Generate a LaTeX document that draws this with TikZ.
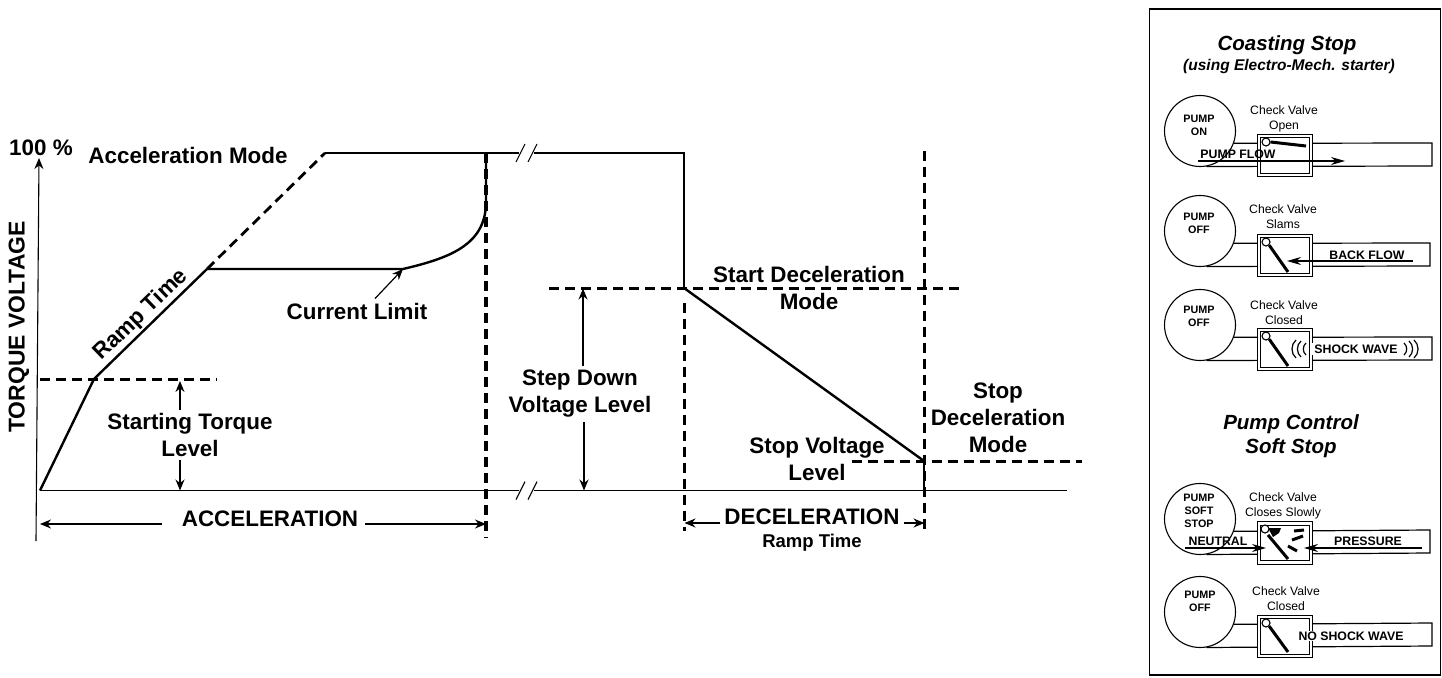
\documentclass[tikz,border=0pt]{standalone}
\usepackage{fontspec}
\setmainfont{Liberation Sans}
\usetikzlibrary{positioning}
\usetikzlibrary{arrows.meta}

\begin{document}
\begin{tikzpicture}[x=1pt, y=-1pt,
	chartlabel/.style={font=\fontsize{22.4}{27}\selectfont\bfseries, align=center, inner sep=0pt},
	ramplabel/.style={font=\fontsize{18.5}{22}\selectfont\bfseries, align=center, inner sep=0pt},
	paneltitle/.style={font=\fontsize{20.5}{24}\selectfont\bfseries\itshape, align=center, inner sep=0pt},
	panelnote/.style={font=\fontsize{15.5}{18}\selectfont\bfseries\itshape, align=center, inner sep=0pt},
	valvetext/.style={font=\fontsize{12.2}{15}\selectfont, align=center, inner sep=0pt},
	pumptext/.style={font=\fontsize{10.8}{13}\selectfont\bfseries, align=center, inner sep=0pt},
	flowtext/.style={font=\fontsize{12.3}{15}\selectfont\bfseries, align=center, inner sep=0pt},
	pumpnode/.style={circle, draw=black, line width=1.1pt, minimum size=71pt, inner sep=0pt},
	valvenode/.style={rectangle, draw=black, line width=1.2pt, double, double distance=2.4pt, minimum width=52pt, minimum height=39pt, inner sep=0pt},
	hingenode/.style={circle, draw=black, fill=white, line width=1.1pt, minimum size=8pt, inner sep=0pt},
	panelbox/.style={rectangle, draw=black, line width=1.6pt, minimum width=291pt, minimum height=666pt, inner sep=0pt},
	thinline/.style={line width=1.1pt},
	heavyline/.style={line width=2.4pt},
	dashline/.style={line width=3.4pt, dash pattern=on 10pt off 6pt},
	slantdash/.style={line width=2.8pt, dash pattern=on 10pt off 6pt},
	dimarrow/.style={line width=1.2pt, -{Stealth[length=11pt, width=9pt]}},
	pipeline/.style={line width=1.2pt},
	flowarrow/.style={line width=1.1pt, -{Stealth[length=14pt, width=8pt]}},
	flapline/.style={line width=3pt},
	]
	\useasboundingbox (0, 0) rectangle (1442, 677);

	% Chart points
	\coordinate (origin)       at (40, 490.5);
	\coordinate (axis_low)     at (36, 541);
	\coordinate (axis_top)     at (39, 158);
	\coordinate (torque_knee)  at (94, 379);
	\coordinate (torque_left)  at (40, 379.5);
	\coordinate (torque_right) at (217, 379.5);
	\coordinate (ramp_knee)    at (207, 269);
	\coordinate (ramp_top)     at (325, 153);
	\coordinate (limit_end)    at (403, 269);
	\coordinate (accel_top)    at (486, 153);
	\coordinate (accel_curve)  at (486, 205);
	\coordinate (accel_low)    at (486, 538);
	\coordinate (break_tl)     at (519, 153);
	\coordinate (break_tr)     at (534, 153);
	\coordinate (break_bl)     at (519, 490.5);
	\coordinate (break_br)     at (534, 490.5);
	\coordinate (step_top)     at (684, 153);
	\coordinate (step_low)     at (684, 288);
	\coordinate (step_left)    at (549, 288.5);
	\coordinate (step_right)   at (964, 288.5);
	\coordinate (decel_high)   at (684.5, 303);
	\coordinate (decel_low)    at (684.5, 531);
	\coordinate (stop_point)   at (924, 461);
	\coordinate (stop_top)     at (924.5, 151);
	\coordinate (stop_base)    at (924, 490);
	\coordinate (stop_low)     at (924.5, 533);
	\coordinate (stop_left)    at (852, 461.5);
	\coordinate (stop_right)   at (1082, 461.5);
	\coordinate (base_end)     at (1067, 490.5);

	% Chart labels
	\node[chartlabel]               (percent_label)   at (41, 148)    {100 \%};
	\node[chartlabel]               (accel_mode)      at (188, 155)   {Acceleration Mode};
	\node[chartlabel, font=\fontsize{22.9}{27}\selectfont\bfseries, rotate=90] (torque_label) at (19, 327) {TORQUE VOLTAGE};
	\node[chartlabel, rotate=44]    (ramp_label)      at (141, 315)   {Ramp Time};
	\node[chartlabel]               (current_limit)   at (357, 311)   {Current Limit};
	\node[chartlabel]               (start_torque)    at (190, 435)   {Starting Torque\\Level};
	\node[chartlabel]               (accel_label)     at (270, 519)   {ACCELERATION};
	\node[chartlabel]               (step_label)      at (580, 394)   {Step Down\\Voltage Level};
	\node[chartlabel]               (start_decel)     at (809, 288)   {Start Deceleration\\Mode};
	\node[chartlabel]               (stop_level)      at (817, 459)   {Stop Voltage\\Level};
	\node[chartlabel]               (stop_decel)      at (998, 418)   {Stop\\Deceleration\\Mode};
	\node[chartlabel]               (decel_label)     at (812, 517)   {DECELERATION};
	\node[ramplabel]                (decel_ramp)      at (812, 543)   {Ramp Time};

	% Chart lines
	\draw[thinline, -{Stealth[length=11pt, width=9pt]}] (axis_low) -- (axis_top);
	\draw[thinline] (origin) -- (break_bl);
	\draw[thinline] (break_br) -- (base_end);
	\draw[thinline] (break_bl) ++(-3, 9) -- ++(9, -18);
	\draw[thinline] (break_br) ++(-6, 9) -- ++(9, -18);
	\draw[thinline] (break_tl) ++(-3, 9) -- ++(9, -18);
	\draw[thinline] (break_tr) ++(-6, 9) -- ++(9, -18);
	\draw[heavyline] (origin) -- (torque_knee) -- (ramp_knee);
	\draw[slantdash] (ramp_knee) -- (ramp_top);
	\draw[heavyline] (ramp_top) -- (break_tl);
	\draw[heavyline] (break_tr) -- (step_top) -- (step_low);
	\draw[heavyline] (ramp_knee) -- (limit_end) .. controls (450, 258) and (484, 245) .. (accel_curve) -- (accel_top);
	\draw[dashline] (accel_top) -- (accel_low);
	\draw[dashline] (torque_left) -- (torque_right);
	\draw[dashline] (step_left) -- (step_right);
	\draw[dashline] (decel_high) -- (decel_low);
	\draw[dashline] (stop_top) -- (stop_low);
	\draw[dashline] (stop_left) -- (stop_right);
	\draw[heavyline] (stop_point) -- (stop_base);
	\draw[heavyline] (step_low) -- (stop_point);

	% Chart arrows
	\draw[dimarrow] (current_limit.north) ++(18, -4) -- (limit_end);
	\draw[dimarrow] (start_torque.north -| 180, 0) ++(0, -3) -- (180, 381);
	\draw[dimarrow] (start_torque.south -| 180, 0) ++(0, 3) -- (origin -| 180, 0);
	\draw[dimarrow] (accel_label.west) ++(-20, 5) -- (origin |- 0, 524);
	\draw[dimarrow] (accel_label.east) ++(7, 5) -- (accel_top |- 0, 524);
	\draw[dimarrow] (step_label.north -| 583, 0) ++(0, -4) -- (step_left -| 583, 0);
	\draw[dimarrow] (step_label.south -| 584, 0) ++(0, 4) -- (origin -| 584, 0);
	\draw[dimarrow] (decel_label.west) ++(-4, 6) -- (decel_low |- 0, 523);
	\draw[dimarrow] (decel_label.east) ++(4, 6) -- (stop_top |- 0, 523);

	% Panel
	\node[panelbox]                 (panel)           at (1295, 342)  {};
	\node[paneltitle]               (coast_title)     at (1287, 45)   {Coasting Stop};
	\node[panelnote]                (coast_note)      at (1289, 66)   {(using Electro-Mech. starter)};
	\node[paneltitle]               (soft_title)      at (1291, 436)  {Pump Control\\Soft Stop};

	% Pump on
	\node[pumpnode]                 (pump_on)         at (1200, 131)  {};
	\node[pumptext]                 (pump_on_text)    at (1199, 125)  {PUMP\\ON};
	\node[valvetext]                (open_text)       at (1284, 119)  {Check Valve\\Open};
	\draw[pipeline] (pump_on.-20) -- (1432, 143) -- (1432, 166) -- (pump_on.-80);
	\node[valvenode, fill=white]    (valve_open)      at (1285, 155.5) {};
	\node[hingenode]                (hinge_open)      at (1266, 142)  {};
	\draw[flapline] (hinge_open.east) -- (1306, 146);
	\node[flowtext]                 (pump_flow)       at (1238, 154)  {PUMP FLOW};
	\draw[flowarrow] (1198, 161) -- (1345, 161);

	% Pump off, slams
	\node[pumpnode]                 (pump_slam)       at (1200, 231)  {};
	\node[pumptext]                 (pump_slam_text)  at (1199, 223)  {PUMP\\OFF};
	\node[valvetext]                (slam_text)       at (1283, 217)  {Check Valve\\Slams};
	\draw[pipeline] (pump_slam.-20) -- (1430, 243) -- (1430, 266) -- (pump_slam.-80);
	\node[valvenode, fill=white]    (valve_slam)      at (1285, 255.5) {};
	\node[hingenode]                (hinge_slam)      at (1266, 242)  {};
	\draw[flapline] (hinge_slam.south east) -- (1288, 272);
	\node[flowtext]                 (back_flow)       at (1367, 255)  {BACK FLOW};
	\draw[flowarrow] (1413, 261) -- (1287, 261);

	% Pump off, closed
	\node[pumpnode]                 (pump_shut)       at (1200, 325)  {};
	\node[pumptext]                 (pump_shut_text)  at (1199, 316)  {PUMP\\OFF};
	\node[valvetext]                (shut_text)       at (1284, 313)  {Check Valve\\Closed};
	\draw[pipeline] (pump_shut.-20) -- (1432, 337) -- (1432, 360) -- (pump_shut.-80);
	\node[valvenode, fill=white]    (valve_shut)      at (1285, 349.5) {};
	\node[hingenode]                (hinge_shut)      at (1266, 336)  {};
	\draw[flapline] (hinge_shut.south east) -- (1288, 366);
	\node[flowtext, fill=white, inner sep=2pt] (shock_wave) at (1356, 349) {SHOCK WAVE};
	\draw[pipeline] (1296, 340) to[bend right=50] (1296, 358);
	\draw[pipeline] (1301, 341) to[bend right=50] (1301, 357);
	\draw[pipeline] (1306, 343) to[bend right=50] (1306, 355);
	\draw[pipeline] (1404, 343) to[bend left=50] (1404, 355);
	\draw[pipeline] (1409, 341) to[bend left=50] (1409, 357);
	\draw[pipeline] (1414, 340) to[bend left=50] (1414, 358);

	% Soft stop
	\node[pumpnode]                 (pump_soft)       at (1200, 519)  {};
	\node[pumptext]                 (pump_soft_text)  at (1199, 511)  {PUMP\\SOFT\\STOP};
	\node[valvetext]                (soft_text)       at (1283, 505.5) {Check Valve\\Closes Slowly};
	\draw[pipeline] (pump_soft.-20) -- (1430, 530) -- (1430, 553) -- (pump_soft.-80);
	\node[valvenode, fill=white]    (valve_soft)      at (1285, 543)  {};
	\fill[black] (1268, 528) -- (1281, 528) -- (1279, 533) -- (1273, 537) -- cycle;
	\node[hingenode]                (hinge_soft)      at (1265, 529)  {};
	\draw[flapline] (1268, 535) -- (1288, 559);
	\draw[flapline] (1294, 531) -- (1304, 530);
	\draw[flapline] (1292, 540) -- (1303, 536);
	\draw[flapline] (1288, 546) -- (1297, 551);
	\node[flowtext]                 (neutral)         at (1218, 541)  {NEUTRAL};
	\node[flowtext]                 (pressure)        at (1368, 541)  {PRESSURE};
	\draw[flowarrow] (1185, 548) -- (1266, 548);
	\draw[flowarrow] (1422, 548) -- (1304, 548);

	% Pump off, no shock
	\node[pumpnode]                 (pump_calm)       at (1200, 612)  {};
	\node[pumptext]                 (pump_calm_text)  at (1200, 601)  {PUMP\\OFF};
	\node[valvetext]                (calm_text)       at (1286, 598.5) {Check Valve\\Closed};
	\draw[pipeline] (pump_calm.-20) -- (1432, 623) -- (1432, 646) -- (pump_calm.-80);
	\node[valvenode, fill=white]    (valve_calm)      at (1285, 636.5) {};
	\node[hingenode]                (hinge_calm)      at (1266, 623)  {};
	\draw[flapline] (hinge_calm.south east) -- (1288, 652);
	\node[flowtext, fill=white, inner sep=1pt] (no_shock) at (1351, 636) {NO SHOCK WAVE};
\end{tikzpicture}
\end{document}
